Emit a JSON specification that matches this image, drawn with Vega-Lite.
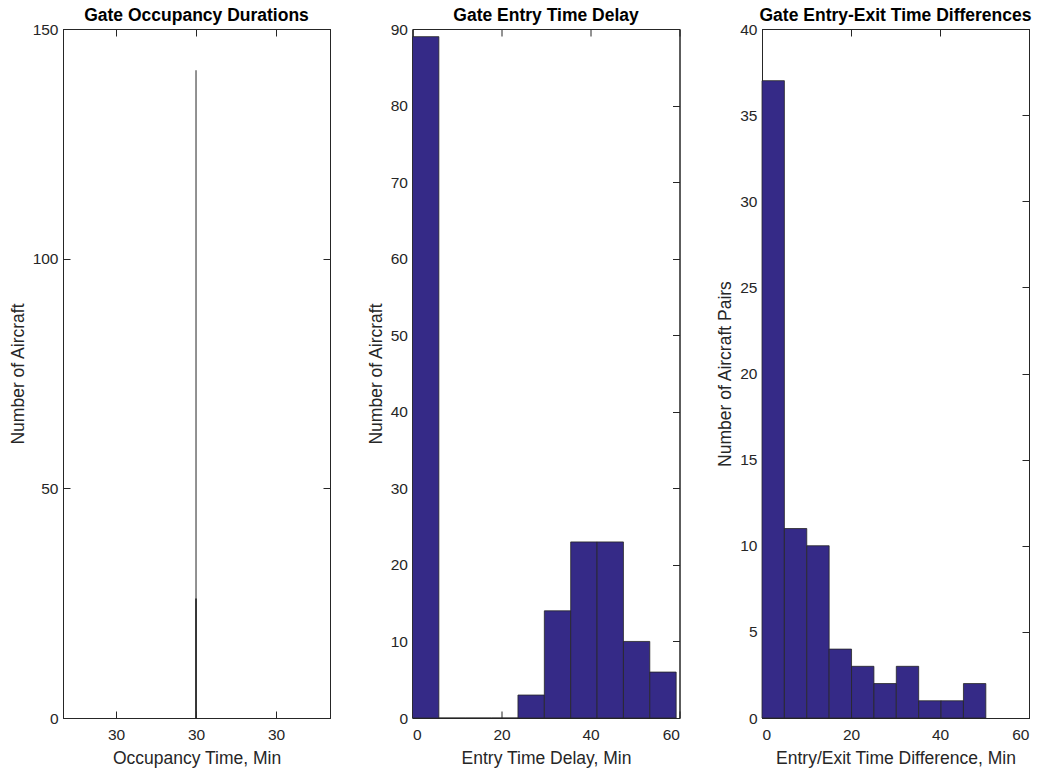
{
  "$schema": "https://vega.github.io/schema/vega-lite/v6.json",
  "background": "white",
  "padding": {"left": 8, "top": 6, "right": 5, "bottom": 5},
  "bounds": "flush",
  "spacing": 82.5,
  "config": {
    "font": "Liberation Sans",
    "view": {"stroke": "#262626", "strokeWidth": 1},
    "axis": {
      "grid": false,
      "domainColor": "#262626",
      "domainWidth": 1,
      "tickColor": "#262626",
      "tickSize": -7,
      "tickWidth": 1,
      "labelColor": "#262626",
      "labelFont": "Liberation Sans",
      "labelFontSize": 15.5,
      "titleColor": "#262626",
      "titleFont": "Liberation Sans",
      "titleFontSize": 17.5,
      "titleFontWeight": "normal"
    },
    "axisX": {"labelPadding": 16, "titlePadding": 7},
    "axisY": {"labelPadding": 12, "titlePadding": 5},
    "title": {"font": "Liberation Sans", "fontSize": 17.5, "fontWeight": "bold", "color": "#000000", "offset": -2}
  },
  "hconcat": [
    {
      "width": 267,
      "height": 689,
      "title": "Gate Occupancy Durations",
      "data": {"values": [
        {"time": 30, "count": 141, "part": "upper"},
        {"time": 30, "count": 26, "part": "lower"}
      ]},
      "layer": [
        {
          "mark": {"type": "rule", "strokeWidth": 1.5},
          "encoding": {
            "x": {"field": "time", "type": "quantitative", "scale": {"domain": [29.98337, 30.01675], "nice": false, "zero": false},
              "axis": {"orient": "bottom", "values": [29.99, 30, 30.01], "format": ".0f"}, "title": "Occupancy Time, Min"},
            "y": {"field": "count", "type": "quantitative", "scale": {"domain": [0, 150], "nice": false},
              "axis": {"orient": "left", "values": [0, 50, 100, 150]}, "title": "Number of Aircraft"},
            "y2": {"datum": 0},
            "color": {"field": "part", "type": "nominal", "scale": {"domain": ["upper", "lower"], "range": ["#6e6e6e", "#1a1a1a"]}, "legend": null}
          }
        },
        {
          "mark": {"type": "rule", "opacity": 0},
          "encoding": {
            "x": {"field": "time", "type": "quantitative", "axis": {"orient": "top", "values": [29.99, 30, 30.01], "labels": false, "title": null}},
            "y": {"field": "count", "type": "quantitative", "axis": {"orient": "right", "values": [0, 50, 100, 150], "labels": false, "title": null}}
          }
        }
      ],
      "resolve": {"axis": {"x": "independent", "y": "independent"}}
    },
    {
      "width": 267,
      "height": 689,
      "title": "Gate Entry Time Delay",
      "data": {"values": [
        {"start": 0, "end": 5.925, "count": 89},
        {"start": 5.925, "end": 11.85, "count": 0},
        {"start": 11.85, "end": 17.775, "count": 0},
        {"start": 17.775, "end": 23.7, "count": 0},
        {"start": 23.7, "end": 29.625, "count": 3},
        {"start": 29.625, "end": 35.55, "count": 14},
        {"start": 35.55, "end": 41.475, "count": 23},
        {"start": 41.475, "end": 47.4, "count": 23},
        {"start": 47.4, "end": 53.325, "count": 10},
        {"start": 53.325, "end": 59.25, "count": 6}
      ]},
      "layer": [
        {
          "mark": {"type": "bar", "fill": "#352a87", "stroke": "#262626", "strokeWidth": 0.8},
          "encoding": {
            "x": {"field": "start", "type": "quantitative", "scale": {"domain": [0, 60], "nice": false, "zero": false},
              "axis": {"orient": "bottom", "values": [0, 20, 40, 60]}, "title": "Entry Time Delay, Min"},
            "x2": {"field": "end"},
            "y": {"field": "count", "type": "quantitative", "scale": {"domain": [0, 90], "nice": false},
              "axis": {"orient": "left", "values": [0, 10, 20, 30, 40, 50, 60, 70, 80, 90]}, "title": "Number of Aircraft"},
            "y2": {"datum": 0}
          }
        },
        {
          "mark": {"type": "bar", "opacity": 0},
          "encoding": {
            "x": {"field": "start", "type": "quantitative", "axis": {"orient": "top", "values": [0, 20, 40, 60], "labels": false, "title": null}},
            "x2": {"field": "end"},
            "y": {"field": "count", "type": "quantitative", "axis": {"orient": "right", "values": [0, 10, 20, 30, 40, 50, 60, 70, 80, 90], "labels": false, "title": null}},
            "y2": {"datum": 0}
          }
        }
      ],
      "resolve": {"axis": {"x": "independent", "y": "independent"}}
    },
    {
      "width": 267,
      "height": 689,
      "title": "Gate Entry-Exit Time Differences",
      "data": {"values": [
        {"start": 0, "end": 5.03, "count": 37},
        {"start": 5.03, "end": 10.06, "count": 11},
        {"start": 10.06, "end": 15.09, "count": 10},
        {"start": 15.09, "end": 20.12, "count": 4},
        {"start": 20.12, "end": 25.15, "count": 3},
        {"start": 25.15, "end": 30.18, "count": 2},
        {"start": 30.18, "end": 35.21, "count": 3},
        {"start": 35.21, "end": 40.24, "count": 1},
        {"start": 40.24, "end": 45.27, "count": 1},
        {"start": 45.27, "end": 50.3, "count": 2}
      ]},
      "layer": [
        {
          "mark": {"type": "bar", "fill": "#352a87", "stroke": "#262626", "strokeWidth": 0.8},
          "encoding": {
            "x": {"field": "start", "type": "quantitative", "scale": {"domain": [0, 60], "nice": false, "zero": false},
              "axis": {"orient": "bottom", "values": [0, 20, 40, 60]}, "title": "Entry/Exit Time Difference, Min"},
            "x2": {"field": "end"},
            "y": {"field": "count", "type": "quantitative", "scale": {"domain": [0, 40], "nice": false},
              "axis": {"orient": "left", "values": [0, 5, 10, 15, 20, 25, 30, 35, 40]}, "title": "Number of Aircraft Pairs"},
            "y2": {"datum": 0}
          }
        },
        {
          "mark": {"type": "bar", "opacity": 0},
          "encoding": {
            "x": {"field": "start", "type": "quantitative", "axis": {"orient": "top", "values": [0, 20, 40, 60], "labels": false, "title": null}},
            "x2": {"field": "end"},
            "y": {"field": "count", "type": "quantitative", "axis": {"orient": "right", "values": [0, 5, 10, 15, 20, 25, 30, 35, 40], "labels": false, "title": null}},
            "y2": {"datum": 0}
          }
        }
      ],
      "resolve": {"axis": {"x": "independent", "y": "independent"}}
    }
  ]
}
